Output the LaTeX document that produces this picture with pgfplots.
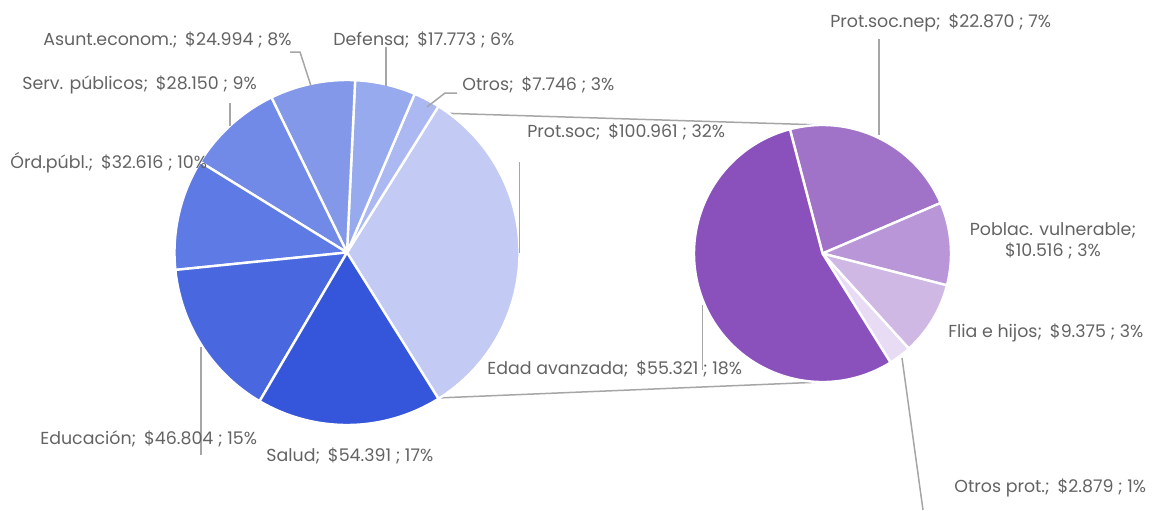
\documentclass[border=0pt]{standalone}
\usepackage{pgfplots}
\pgfplotsset{compat=1.18}
\usepackage{fontspec}
\setmainfont{Poppins}
\definecolor{cProt}{HTML}{C3CBF4}
\definecolor{cSal}{HTML}{3555DA}
\definecolor{cEdu}{HTML}{4968E0}
\definecolor{cOrd}{HTML}{5E7AE4}
\definecolor{cServ}{HTML}{7189E7}
\definecolor{cAsunt}{HTML}{8498EA}
\definecolor{cDef}{HTML}{98AAEE}
\definecolor{cOtros}{HTML}{ABB8F1}
\definecolor{cEdad}{HTML}{8A50BC}
\definecolor{cNep}{HTML}{A173C8}
\definecolor{cVul}{HTML}{B896D8}
\definecolor{cFlia}{HTML}{D0B8E5}
\definecolor{cOprot}{HTML}{E8DBF4}
\definecolor{txt}{HTML}{636363}
\definecolor{lead}{HTML}{A6A6A6}
\begin{document}
\begin{tikzpicture}[lbl/.style={font=\fontsize{8.7}{10.2}\selectfont, text=txt, inner sep=0pt, anchor=west}]
\begin{axis}[x=0.5pt,y=0.5pt,xmin=0,xmax=1152,ymin=0,ymax=510,hide axis,clip=false]
% connector lines
\draw[lead, line width=0.75pt] (axis cs:437,397) -- (axis cs:822.5,385);
\draw[lead, line width=0.75pt] (axis cs:437,112) -- (axis cs:822.5,128);
% main pie
\pgfmathsetmacro\cur{-0.5*100.961/313.435*360}
\xdef\cur{\cur}
\foreach \v/\c in {100.961/cProt,7.746/cOtros,17.773/cDef,24.994/cAsunt,28.150/cServ,32.616/cOrd,46.804/cEdu,54.391/cSal}{
  \pgfmathsetmacro\e{\cur+\v/313.435*360}
  \edef\tmp{\noexpand\fill[fill=\c,draw=white,line width=1.2pt,line join=round] (axis cs:347,257.5) -- ++(\cur:86.25pt) arc[start angle=\cur,end angle=\e,radius=86.25pt] -- cycle;}
  \tmp
  \xdef\cur{\e}
}
% secondary pie
\xdef\cur{104.7}
\foreach \v/\c in {22.870/cNep,10.516/cVul,9.375/cFlia,2.879/cOprot,55.321/cEdad}{
  \pgfmathsetmacro\e{\cur-\v/100.961*360}
  \edef\tmp{\noexpand\fill[fill=\c,draw=white,line width=1.2pt,line join=round] (axis cs:822.5,256.5) -- ++(\cur:64.25pt) arc[start angle=\cur,end angle=\e,radius=64.25pt] -- cycle;}
  \tmp
  \xdef\cur{\e}
}
% leader lines
\draw[lead, line width=0.75pt] (axis cs:290,458) -- (axis cs:300,458) -- (axis cs:311,424);
\draw[lead, line width=0.75pt] (axis cs:386,463) -- (axis cs:386,424);
\draw[lead, line width=0.75pt] (axis cs:457,417) -- (axis cs:445,417) -- (axis cs:427,403);
\draw[lead, line width=0.75pt] (axis cs:230,407) -- (axis cs:230,384);
\draw[lead, line width=0.75pt] (axis cs:201,163) -- (axis cs:201,55);
\draw[lead, line width=0.75pt] (axis cs:519.5,348) -- (axis cs:519.5,257.5);
\draw[lead, line width=0.75pt] (axis cs:702.7,205) -- (axis cs:702.7,140);
\draw[lead, line width=0.75pt] (axis cs:879,471) -- (axis cs:879,375);
\draw[lead, line width=0.75pt] (axis cs:902,152) -- (axis cs:923,0);
% labels
\node[lbl] at (axis cs:43,470) {Asunt.econom.;\hspace{0.45em}\$24.994 ; 8\%};
\node[lbl] at (axis cs:333,470) {Defensa;\hspace{0.45em}\$17.773 ; 6\%};
\node[lbl] at (axis cs:462,425) {Otros;\hspace{0.45em}\$7.746 ; 3\%};
\node[lbl] at (axis cs:22,425) {Serv. públicos;\hspace{0.45em}\$28.150 ; 9\%};
\node[lbl] at (axis cs:10,347) {Órd.públ.;\hspace{0.45em}\$32.616 ; 10\%};
\node[lbl] at (axis cs:40,71) {Educación;\hspace{0.45em}\$46.804 ; 15\%};
\node[lbl] at (axis cs:266,54) {Salud;\hspace{0.45em}\$54.391 ; 17\%};
\node[lbl] at (axis cs:527,378) {Prot.soc;\hspace{0.45em}\$100.961 ; 32\%};
\node[lbl] at (axis cs:487,141) {Edad avanzada;\hspace{0.45em}\$55.321 ; 18\%};
\node[lbl] at (axis cs:830,487) {Prot.soc.nep;\hspace{0.45em}\$22.870 ; 7\%};
\node[lbl, anchor=center, align=center] at (axis cs:1053,269) {Poblac. vulnerable;\\\$10.516 ; 3\%};
\node[lbl] at (axis cs:948,177) {Flia e hijos;\hspace{0.45em}\$9.375 ; 3\%};
\node[lbl] at (axis cs:954,22) {Otros prot.;\hspace{0.45em}\$2.879 ; 1\%};
\end{axis}
\pgfresetboundingbox
\useasboundingbox (0,0) rectangle (576pt,255pt);
\end{tikzpicture}
\end{document}
